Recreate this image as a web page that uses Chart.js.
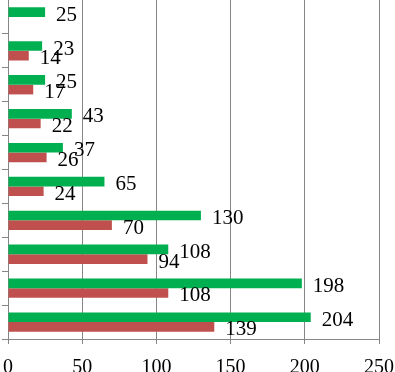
<!DOCTYPE html>
<html>
<head>
<meta charset="utf-8">
<script src="https://cdn.jsdelivr.net/npm/chart.js@4/dist/chart.umd.min.js"></script>
<style>
html,body{margin:0;padding:0;background:#fff;}
#wrap{position:absolute;left:0;top:0;width:395px;height:372px;}
</style>
</head>
<body>
<div id="wrap"><canvas id="c" width="395" height="372"></canvas></div>
<script>
const categories = ["Item 1","Item 2","Item 3","Item 4","Item 5","Item 6","Item 7","Item 8","Item 9","Item 10"];
const greenValues = [25, 23, 25, 43, 37, 65, 130, 108, 198, 204];
const redValues = [null, 14, 17, 22, 26, 24, 70, 94, 108, 139];
const xTicks = [0, 50, 100, 150, 200, 250];

const serif = "'Liberation Serif', 'Times New Roman', serif";
const gridColor = '#868686';

const labelPlugin = {
  id: 'barLabels',
  afterDatasetsDraw(chart) {
    const ctx = chart.ctx;
    ctx.save();
    ctx.font = '21px ' + serif;
    ctx.fillStyle = '#000';
    ctx.textAlign = 'left';
    ctx.textBaseline = 'middle';
    chart.data.datasets.forEach((ds, di) => {
      const meta = chart.getDatasetMeta(di);
      meta.data.forEach((el, i) => {
        const v = ds.data[i];
        if (v === null || v === undefined) return;
        ctx.fillText(String(v), el.x + 11, el.y + 3);
      });
    });
    ctx.restore();
  }
};

new Chart(document.getElementById('c'), {
  type: 'bar',
  data: {
    labels: categories,
    datasets: [
      { label: 'Series 1', data: greenValues, backgroundColor: '#00B050', borderWidth: 0, categoryPercentage: 0.57, barPercentage: 1 },
      { label: 'Series 2', data: redValues, backgroundColor: '#C0504D', borderWidth: 0, categoryPercentage: 0.57, barPercentage: 1 }
    ]
  },
  options: {
    indexAxis: 'y',
    responsive: false,
    animation: false,
    devicePixelRatio: 1,
    layout: { padding: { left: 0, right: 16, top: 0, bottom: 0 } },
    plugins: { legend: { display: false }, tooltip: { enabled: false } },
    scales: {
      x: {
        min: xTicks[0],
        max: xTicks[xTicks.length - 1],
        afterBuildTicks(scale) { scale.ticks = xTicks.map(v => ({ value: v })); },
        afterFit(scale) { scale.height = 33; scale.paddingLeft = 0; scale.paddingRight = 0; },
        grid: { color: gridColor, lineWidth: 1, tickLength: 5, drawTicks: true },
        border: { display: true, color: gridColor },
        ticks: { color: '#000', font: { family: serif, size: 20 }, padding: 12, maxRotation: 0, autoSkip: false }
      },
      y: {
        afterFit(scale) { scale.width = 8; scale.paddingTop = 0; scale.paddingBottom = 0; },
        grid: { drawOnChartArea: false, drawTicks: true, tickLength: 6, color: gridColor, offset: true },
        border: { display: true, color: gridColor },
        ticks: { display: false }
      }
    }
  },
  plugins: [labelPlugin]
});
</script>
</body>
</html>
